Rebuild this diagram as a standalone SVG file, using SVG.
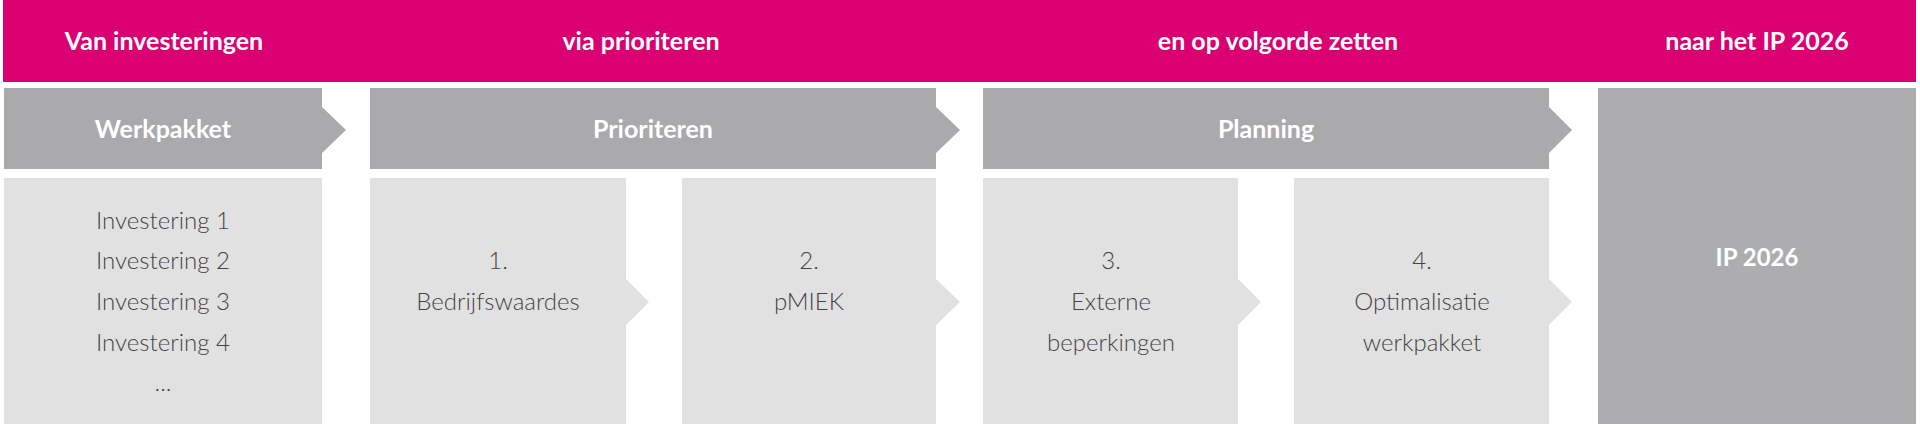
<svg xmlns="http://www.w3.org/2000/svg" width="1920" height="426" viewBox="0 0 1920 426">
<style>
.pink{fill:#da0071}
.bar{fill:#aaaaac}
.box{fill:#e1e1e1}
.ip{fill:#adadaf}
.hd{font-family:Lato,"Open Sans","Liberation Sans",sans-serif;font-weight:700;font-size:25px;fill:#ffffff;text-anchor:middle}
.bd{font-family:Lato,"Open Sans","Liberation Sans",sans-serif;font-weight:300;font-size:24px;fill:#444446;text-anchor:middle}
</style>
<rect width="1920" height="426" fill="#ffffff"/>
<g id="header">
<rect class="pink" x="3" y="0" width="1913" height="82"/>
<text class="hd" x="164" y="50">Van investeringen</text>
<text class="hd" x="641" y="50">via prioriteren</text>
<text class="hd" x="1278" y="50">en op volgorde zetten</text>
<text class="hd" x="1757" y="50">naar het IP 2026</text>
</g>
<g id="werkpakket">
<path class="bar" d="M4 88H322V107L346 130L322 153V169H4Z"/>
<text class="hd" x="163" y="138">Werkpakket</text>
</g>
<g id="prioriteren">
<path class="bar" d="M370 88H936V107L960 130L936 153V169H370Z"/>
<text class="hd" x="653" y="138">Prioriteren</text>
</g>
<g id="planning">
<path class="bar" d="M983 88H1549V107L1572 130L1549 153V169H983Z"/>
<text class="hd" x="1266" y="138">Planning</text>
</g>
<g id="investeringen">
<rect class="box" x="4" y="178" width="318" height="246"/>
<text class="bd" x="163" y="229">Investering 1</text>
<text class="bd" x="163" y="269">Investering 2</text>
<text class="bd" x="163" y="310">Investering 3</text>
<text class="bd" x="163" y="351">Investering 4</text>
<text class="bd" x="163" y="391">...</text>
</g>
<g id="bedrijfswaardes">
<path class="box" d="M370 178H626V279L649 302L626 325V424H370Z"/>
<text class="bd" x="498" y="269">1.</text>
<text class="bd" x="498" y="310">Bedrijfswaardes</text>
</g>
<g id="pmiek">
<path class="box" d="M682 178H936V279L960 302L936 325V424H682Z"/>
<text class="bd" x="809" y="269">2.</text>
<text class="bd" x="809" y="310">pMIEK</text>
</g>
<g id="externe">
<path class="box" d="M983 178H1238V279L1261 302L1238 325V424H983Z"/>
<text class="bd" x="1111" y="269">3.</text>
<text class="bd" x="1111" y="310">Externe</text>
<text class="bd" x="1111" y="351">beperkingen</text>
</g>
<g id="optimalisatie">
<path class="box" d="M1294 178H1549V279L1572 302L1549 325V424H1294Z"/>
<text class="bd" x="1422" y="269">4.</text>
<text class="bd" x="1422" y="310">Optimalisatie</text>
<text class="bd" x="1422" y="351">werkpakket</text>
</g>
<g id="ip2026">
<rect class="ip" x="1598" y="88" width="318" height="336"/>
<text class="hd" x="1757" y="266" style="font-size:24px">IP 2026</text>
</g>
<g id="connectors"></g>
</svg>
